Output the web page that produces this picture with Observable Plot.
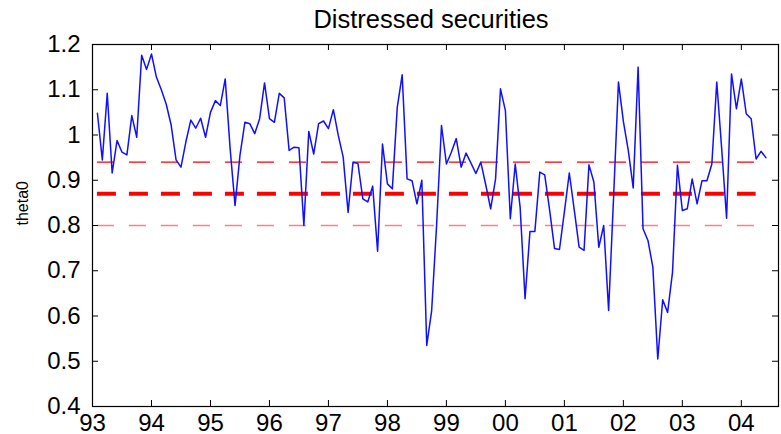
<!DOCTYPE html>
<html>
<head>
<meta charset="utf-8">
<script src="https://cdn.jsdelivr.net/npm/d3@7"></script>
<script src="https://cdn.jsdelivr.net/npm/@observablehq/plot@0.6"></script>
<style>
  body { margin: 0; background: #fff; font-family: Arial, "Liberation Sans", sans-serif; }
  #title { position: relative; width: 781px; height: 36px; }
  #title span { position: absolute; left: 431px; top: 7px; transform: translateX(-50%);
                font-size: 25.5px; line-height: 25px; white-space: nowrap; color: #000; }
  #chart svg { display: block; }
</style>
</head>
<body>
<div id="title"><span>Distressed securities</span></div>
<div id="chart"></div>
<script>
// Monthly estimates of theta0, January 1993 through May 2004
const startYear = 1993;
const theta0 = [
  1.048, 0.945, 1.092, 0.916, 0.988, 0.962, 0.956, 1.043, 0.995, 1.176, 1.145, 1.179,
  1.128, 1.100, 1.068, 1.022, 0.945, 0.929, 0.985, 1.033, 1.015, 1.037, 0.995, 1.050,
  1.076, 1.065, 1.124, 0.970, 0.844, 0.955, 1.028, 1.025, 1.003, 1.036, 1.115, 1.036,
  1.028, 1.092, 1.082, 0.966, 0.973, 0.972, 0.800, 1.008, 0.958, 1.025, 1.031, 1.014,
  1.056, 0.999, 0.951, 0.829, 0.940, 0.937, 0.859, 0.852, 0.887, 0.743, 0.980, 0.892,
  0.881, 1.061, 1.133, 0.903, 0.899, 0.848, 0.900, 0.535, 0.612, 0.800, 1.021, 0.936,
  0.962, 0.992, 0.929, 0.960, 0.938, 0.915, 0.940, 0.890, 0.837, 0.903, 1.102, 1.054,
  0.815, 0.936, 0.840, 0.638, 0.787, 0.787, 0.918, 0.912, 0.834, 0.749, 0.747, 0.830,
  0.916, 0.835, 0.752, 0.745, 0.934, 0.896, 0.752, 0.800, 0.612, 0.860, 1.117, 1.030,
  0.966, 0.883, 1.150, 0.793, 0.767, 0.708, 0.505, 0.636, 0.608, 0.697, 0.933, 0.833,
  0.837, 0.903, 0.848, 0.899, 0.899, 0.936, 1.117, 0.970, 0.816, 1.135, 1.058, 1.124,
  1.047, 1.036, 0.947, 0.964, 0.950
];

// Reference levels: upper band, mean, lower band
const upperLevel = 0.94;
const meanLevel = 0.87;
const lowerLevel = 0.80;
const levelStart = 1993 + 1 / 12;
const levelEnd = 2004.25;

// Axis ticks and their labels
const yearTicks = [1993, 1994, 1995, 1996, 1997, 1998, 1999, 2000, 2001, 2002, 2003, 2004];
const yearLabels = ["93", "94", "95", "96", "97", "98", "99", "00", "01", "02", "03", "04"];
const valueTicks = [0.4, 0.5, 0.6, 0.7, 0.8, 0.9, 1.0, 1.1, 1.2];
const valueLabels = ["0.4", "0.5", "0.6", "0.7", "0.8", "0.9", "1", "1.1", "1.2"];
const yLabel = "theta0";

const series = theta0.map((v, i) => ({ date: startYear + (i + 1) / 12, value: v }));

const W = 781, H = 398;
const mTop = 8, mBottom = 28, mLeft = 92, mRight = 3;
const innerW = W - mLeft - mRight;
const innerH = H - mTop - mBottom;
const tickLen = 6;

const chart = Plot.plot({
  width: W,
  height: H,
  marginTop: mTop,
  marginBottom: mBottom,
  marginLeft: mLeft,
  marginRight: mRight,
  x: { domain: [1993, 2004.63] },
  y: { domain: [0.4, 1.2] },
  style: {
    fontFamily: "Arial, 'Liberation Sans', sans-serif",
    fontSize: "24px",
    color: "#000",
    background: "#fff",
    overflow: "visible"
  },
  marks: [
    Plot.ruleY([lowerLevel], { x1: levelStart, x2: levelEnd, stroke: "#ff8080", strokeWidth: 1.4, strokeDasharray: "17 15" }),
    Plot.ruleY([upperLevel], { x1: levelStart, x2: levelEnd, stroke: "#ff0000", strokeWidth: 1.4, strokeDasharray: "17 15" }),
    Plot.ruleY([meanLevel], { x1: levelStart, x2: levelEnd, stroke: "#ff0000", strokeWidth: 4, strokeDasharray: "19 13" }),
    Plot.lineY(series, { x: "date", y: "value", stroke: "#1010ff", strokeWidth: 1.5 }),
    // inward ticks on all four sides
    Plot.tickX(yearTicks, { x: d => d, insetTop: innerH - tickLen, stroke: "#000" }),
    Plot.tickX(yearTicks, { x: d => d, insetBottom: innerH - tickLen, stroke: "#000" }),
    Plot.tickY(valueTicks, { y: d => d, insetRight: innerW - tickLen, stroke: "#000" }),
    Plot.tickY(valueTicks, { y: d => d, insetLeft: innerW - tickLen, stroke: "#000" }),
    Plot.frame({ stroke: "#000", strokeWidth: 1.2 }),
    Plot.axisX(yearTicks, {
      anchor: "bottom", tickSize: 0, tickPadding: 7, label: null,
      tickFormat: d => yearLabels[yearTicks.indexOf(d)]
    }),
    Plot.axisY(valueTicks, {
      anchor: "left", tickSize: 0, tickPadding: 12, label: null,
      tickFormat: d => valueLabels[valueTicks.indexOf(d)]
    }),
    Plot.text([yLabel], {
      text: d => d, frameAnchor: "left", rotate: -90, dx: -70, fontSize: 16
    })
  ]
});

document.getElementById("chart").appendChild(chart);
</script>
</body>
</html>
